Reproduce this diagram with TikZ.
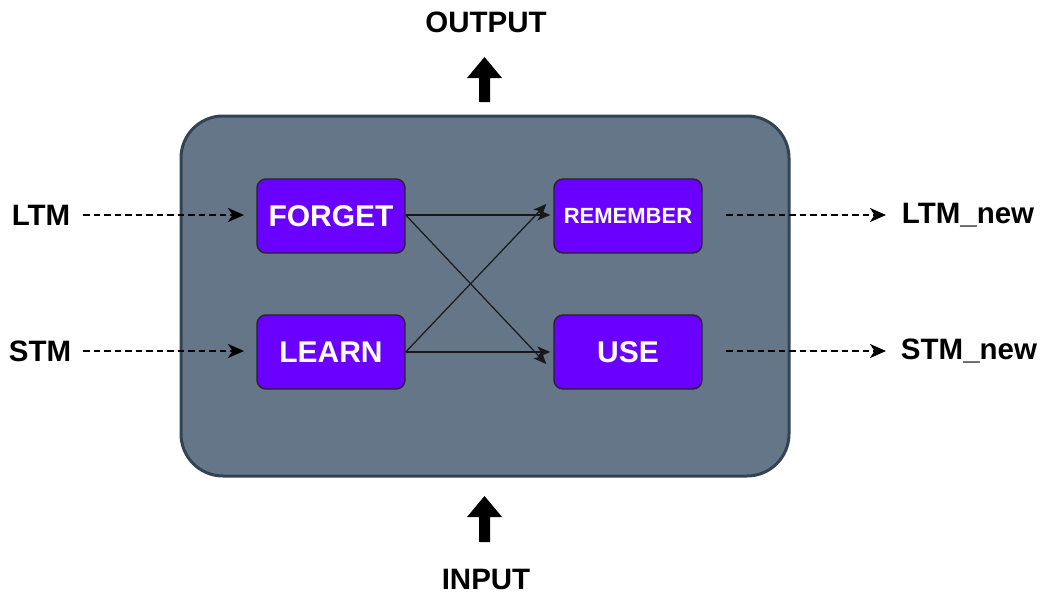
\documentclass[tikz,border=0pt]{standalone}
\usepackage{fontspec}
\setmainfont{Liberation Sans}
\usetikzlibrary{arrows.meta}
\definecolor{cellfill}{HTML}{647687}
\definecolor{cellline}{HTML}{314354}
\definecolor{gatefill}{HTML}{6A00FF}
\tikzset{
  gate/.style={draw=black!85, line width=1.4pt, fill=gatefill, rounded corners=9pt,
    minimum width=148pt, minimum height=74pt, inner sep=0pt,
    text=white, font=\bfseries\fontsize{30}{33}\selectfont},
  lbl/.style={font=\bfseries\fontsize{29.5}{32}\selectfont, text=black, inner sep=0pt},
  flow/.style={draw=black, line width=2.2pt, dash pattern=on 6.5pt off 4pt,
    -{Stealth[length=16pt,width=14pt,inset=4.5pt]}},
  link/.style={draw=black!90, line width=1.2pt, -{Stealth[length=13pt,width=11pt,inset=3.5pt]}},
  bigarrow/.style={fill=black, draw=none}
}
\begin{document}
\begin{tikzpicture}[x=1pt,y=-1pt]
\useasboundingbox (0,0) rectangle (1043,594);

% cell body
\node[draw=cellline, line width=3pt, fill=cellfill, rounded corners=42pt,
  minimum width=608pt, minimum height=360pt, inner sep=0pt] (cell) at (485,296) {};

% gates
\node[gate] (forget) at (331,216) {FORGET};
\node[gate] (learn)  at (331,352) {LEARN};
\node[gate, font=\bfseries\fontsize{22}{25}\selectfont] (remember) at (628,216) {REMEMBER};
\node[gate] (use)    at (628,352) {USE};

% external labels
\node[lbl] (ltm) at (41,215) {LTM};
\node[lbl] (stm) at (40,351) {STM};
\node[lbl] (ltmn) at (968,215) {LTM\_new};
\node[lbl] (stmn) at (969,351) {STM\_new};
\node[lbl, anchor=base] (out) at (486,33) {OUTPUT};
\node[lbl, anchor=base, text depth=0pt] (in) at (486,589) {INPUT};

% dashed state flows
\coordinate (ltms) at (83,215);
\coordinate (ltme) at (244,215);
\coordinate (stms) at (83,351);
\coordinate (stme) at (244,351);
\coordinate (rems) at (726,215);
\coordinate (reme) at (886,215);
\coordinate (uses) at (726,351);
\coordinate (usee) at (886,351);
\draw[flow] (ltms) -- (ltme);
\draw[flow] (stms) -- (stme);
\draw[flow] (rems) -- (reme);
\draw[flow] (uses) -- (usee);

% internal connections
\draw[link] ([yshift=1pt]forget.east) -- ([xshift=-3pt,yshift=1pt]remember.west);
\draw[link] ([yshift=1pt]forget.east) -- ([xshift=-7pt,yshift=-12pt]use.west);
\draw[link] (learn.east) -- ([xshift=-7pt,yshift=12pt]remember.west);
\draw[link] (learn.east) -- ([xshift=-3pt]use.west);

% block arrows for output and input
\coordinate (otip) at (484.5,57);
\coordinate (itip) at (484.5,496);
\fill[bigarrow] (otip) -- ++(17.5,21) -- ++(-12,0) -- ++(0,24) -- ++(-11,0) -- ++(0,-24) -- ++(-12,0) -- cycle;
\fill[bigarrow] (itip) -- ++(17.5,21) -- ++(-12,0) -- ++(0,25) -- ++(-11,0) -- ++(0,-25) -- ++(-12,0) -- cycle;
\end{tikzpicture}
\end{document}
